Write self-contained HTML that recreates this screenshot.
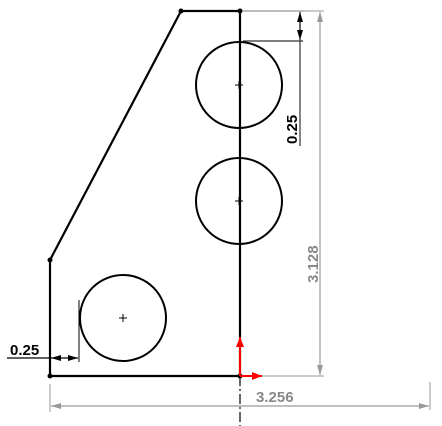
<!DOCTYPE html>
<html><head><meta charset="utf-8"><style>body{margin:0;background:#fff}svg{display:block}text{font-family:"Liberation Sans",sans-serif;font-size:15px;font-weight:bold}</style></head>
<body>
<svg width="442" height="426" viewBox="0 0 442 426">
<defs>
<marker id="ag" viewBox="0 0 10 6" refX="10" refY="3" markerWidth="10" markerHeight="6" orient="auto-start-reverse" markerUnits="userSpaceOnUse"><path d="M0,0L10,3L0,6z" fill="#999"/></marker>
<marker id="ab" viewBox="0 0 10 6" refX="10" refY="3" markerWidth="10" markerHeight="6" orient="auto-start-reverse" markerUnits="userSpaceOnUse"><path d="M0,0L10,3L0,6z" fill="#000"/></marker>
<marker id="ar" viewBox="0 0 10 8" refX="10" refY="4" markerWidth="10" markerHeight="8" orient="auto" markerUnits="userSpaceOnUse"><path d="M0,0L10,4L0,8z" fill="red"/></marker>
</defs>
<g stroke="#000" stroke-width="2.2" fill="none">
<path d="M50,376 L240,376 M240,376 L240,11 L181,11 L50,260 L50,376"/>
</g>
<line x1="240" y1="376" x2="240" y2="426" stroke="#000" stroke-width="1.2" stroke-dasharray="10,3,2,3"/>
<g fill="#000"><circle cx="50" cy="376" r="2.5"/><circle cx="240" cy="376" r="2.5"/><circle cx="240" cy="11" r="2.5"/><circle cx="181" cy="11" r="2.5"/><circle cx="50" cy="260" r="2.5"/></g>
<g stroke="#000" stroke-width="2" fill="none">
<circle cx="239" cy="85" r="43"/>
<circle cx="239" cy="201" r="43"/>
<circle cx="123" cy="318" r="43"/>
</g>
<g stroke="#000" stroke-width="1"><path d="M235,85h8M239,81v8M235,201h8M239,197v8M119,318h8M123,314v8"/></g>
<g>
<line x1="243" y1="11" x2="303" y2="11" stroke="#777" stroke-width="1.2"/>
<line x1="243" y1="41" x2="303" y2="41" stroke="#333" stroke-width="1.2"/>
<line x1="300" y1="12" x2="300" y2="40" stroke="#000" stroke-width="1.2" marker-start="url(#ab)" marker-end="url(#ab)"/>
<line x1="300" y1="40" x2="300" y2="146" stroke="#333" stroke-width="1.2"/>
<text transform="translate(297,144) rotate(-90)" fill="#000">0.25</text>
</g>
<g>
<line x1="243" y1="11" x2="324" y2="11" stroke="#aaa" stroke-width="1.2"/>
<line x1="243" y1="376" x2="324" y2="376" stroke="#aaa" stroke-width="1.2"/>
<line x1="320" y1="12" x2="320" y2="375" stroke="#999" stroke-width="1.2" marker-start="url(#ag)" marker-end="url(#ag)"/>
<text transform="translate(318,283) rotate(-90)" fill="#888">3.128</text>
</g>
<g>
<line x1="50" y1="384" x2="50" y2="412" stroke="#aaa" stroke-width="1.2"/>
<line x1="430" y1="382" x2="430" y2="410" stroke="#aaa" stroke-width="1.2"/>
<line x1="51" y1="406" x2="429" y2="406" stroke="#999" stroke-width="1.2" marker-start="url(#ag)" marker-end="url(#ag)"/>
<text x="256" y="402" fill="#888">3.256</text>
</g>
<g>
<line x1="79" y1="300" x2="79" y2="362" stroke="#000" stroke-width="1"/>
<line x1="7" y1="358" x2="50" y2="358" stroke="#000" stroke-width="1.2"/>
<line x1="51" y1="358" x2="78" y2="358" stroke="#000" stroke-width="1.2" marker-start="url(#ab)" marker-end="url(#ab)"/>
<text x="10" y="355" fill="#000">0.25</text>
</g>
<g>
<line x1="240" y1="376" x2="240" y2="337" stroke="red" stroke-width="2" marker-end="url(#ar)"/>
<line x1="240" y1="376" x2="262" y2="376" stroke="red" stroke-width="2" marker-end="url(#ar)"/>
</g>
</svg>
</body></html>
